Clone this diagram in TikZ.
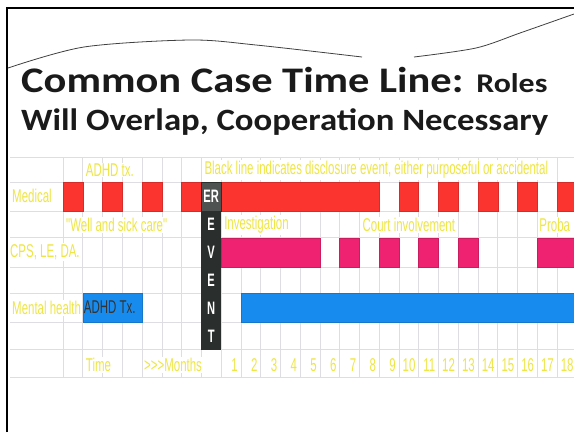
\documentclass[tikz,border=0pt]{standalone}
\usepackage{fontspec}
\setmainfont{Carlito}
\newfontfamily\narrowfont[FakeStretch=0.62]{Liberation Sans}
\newfontfamily\titleA[FakeStretch=1.18]{Carlito}
\newfontfamily\titleB[FakeStretch=1.12]{Carlito}
\usetikzlibrary{calc}
\definecolor{lbl}{RGB}{238,230,70}
\definecolor{medred}{RGB}{252,52,48}
\definecolor{cpspink}{RGB}{238,34,112}
\definecolor{mhblue}{RGB}{24,140,238}
\definecolor{evdark}{RGB}{42,46,44}
\definecolor{evgray}{RGB}{78,82,80}
\definecolor{gridc}{RGB}{222,222,226}
\definecolor{titlec}{RGB}{26,26,26}
\tikzset{
  cellbox/.style={inner sep=0pt, outer sep=0pt, anchor=north west, minimum width=19.76pt},
  medbox/.style={cellbox, fill=medred, draw=medred!85!black, line width=0.4pt, minimum height=29pt},
  cpsbox/.style={cellbox, fill=cpspink, draw=cpspink!85!black, line width=0.4pt, minimum height=29pt},
  mhbox/.style={cellbox, fill=mhblue, draw=mhblue!85!black, line width=0.4pt, minimum height=29pt},
  lbltext/.style={font=\narrowfont\fontsize{18.5}{18.5}\selectfont, text=lbl, anchor=west, inner sep=1pt, fill=white},
  numtext/.style={font=\narrowfont\fontsize{18.5}{18.5}\selectfont, text=lbl, anchor=east, inner sep=1pt},
  evletter/.style={font=\narrowfont\bfseries\fontsize{18}{18}\selectfont, text=white, inner sep=0pt},
  frameline/.style={draw=black, line width=2pt},
  waveline/.style={draw=black!75, line width=0.8pt}
}
\begin{document}
\begin{tikzpicture}[x=1pt,y=-1pt]
\useasboundingbox (0,0) rectangle (574,432);
\fill[white] (0,0) rectangle (574,432);
\begin{scope}
\clip (0,0) rectangle (574,432);
% frame
\draw[frameline] (7,432) -- (7,8) -- (574,8);
% wavy line
\draw[waveline] plot[smooth] coordinates {(8,68) (84,47) (190,40) (256,45) (362,57)};
\draw[waveline] plot[smooth] coordinates {(414,57) (476,48) (520,33) (574,14)};
% title
\node[anchor=base west, inner sep=0pt, text=titlec] (t1) at (21,92)
  {\titleA\fontsize{36}{36}\selectfont\bfseries Common Case Time Line: {\fontsize{27}{27}\selectfont Roles}};
\node[anchor=base west, inner sep=0pt, text=titlec] (t2) at (21,130)
  {\titleB\fontsize{31}{31}\selectfont\bfseries Will Overlap, Cooperation Necessary};
% grid
\foreach \yy in {157,182,211,237,267,293,322,349,377}
  \draw[gridc, line width=0.6pt] (10,\yy) -- (574,\yy);
\foreach \k in {0,...,25}
  \draw[gridc, line width=0.6pt] ({63+19.76*\k},157) -- ({63+19.76*\k},377);
% labels
\node[lbltext] (adhd) at ({63+19.76*1+2},170) {ADHD tx.};
\node[lbltext] (blk) at ({63+19.76*7+2},170) {Black line indicates disclosure event, either purposeful or accidental};
\node[lbltext] (medl) at (11,196) {Medical};
\node[lbltext] (well) at ({63+2},225) {"Well and sick care"};
\node[lbltext] (inv) at ({63+19.76*8+2},225) {Investigation};
\node[lbltext] (court) at ({63+19.76*15+2},225) {Court involvement};
\node[lbltext] (prob) at ({63+19.76*24+1},225) {Proba};
\node[lbltext] (cpsl) at (9,252) {CPS, LE, DA.};
\node[lbltext] (mhl) at (11,308) {Mental health};
\node[lbltext] (timel) at ({63+19.76*1+2},365) {Time};
\node[lbltext] (monl) at ({63+19.76*4+1},365) {>>>Months};
\foreach \n in {1,...,18}
  \node[numtext] (num\n) at ({63+19.76*(8+\n)-2},365) {\n};
% medical bars
\foreach \k [count=\i] in {0,2,4,6,17,19,21,23,25}
  \node[medbox] (med\i) at ({63+19.76*\k},182) {};
\node[medbox, minimum width={19.76*8}] (medlong) at ({63+19.76*8},182) {};
% cps bars
\node[cpsbox, minimum width={19.76*5}] (cpslong) at ({63+19.76*8},238) {};
\foreach \k [count=\i] in {14,16,18,20}
  \node[cpsbox] (cps\i) at ({63+19.76*\k},238) {};
\node[cpsbox, minimum width={19.76*3}] (cpsend) at ({63+19.76*24},238) {};
% mental health bars
\node[mhbox, minimum width={19.76*3}] (mh1) at ({63+19.76*1},293) {};
\node[font=\narrowfont\fontsize{18.5}{18.5}\selectfont, text=black!80, anchor=west, inner sep=0pt] (mhtx) at ($(mh1.west)+(1,0)$) {ADHD Tx.};
\node[mhbox, minimum width={19.76*18}] (mhlong) at ({63+19.76*9},293) {};
% event column
\node[cellbox, fill=evdark, minimum height=168pt] (ev) at ({63+19.76*7},182) {};
\node[cellbox, fill=evgray, draw=evdark, line width=1pt, minimum height=29pt] (evr) at ({63+19.76*7},182) {};
\node[evletter] (l1) at ($(evr.center)$) {ER};
\node[evletter] (l2) at ({63+19.76*7.5},224) {E};
\node[evletter] (l3) at ({63+19.76*7.5},252) {V};
\node[evletter] (l4) at ({63+19.76*7.5},280) {E};
\node[evletter] (l5) at ({63+19.76*7.5},308) {N};
\node[evletter] (l6) at ({63+19.76*7.5},336) {T};
\end{scope}
\end{tikzpicture}
\end{document}
